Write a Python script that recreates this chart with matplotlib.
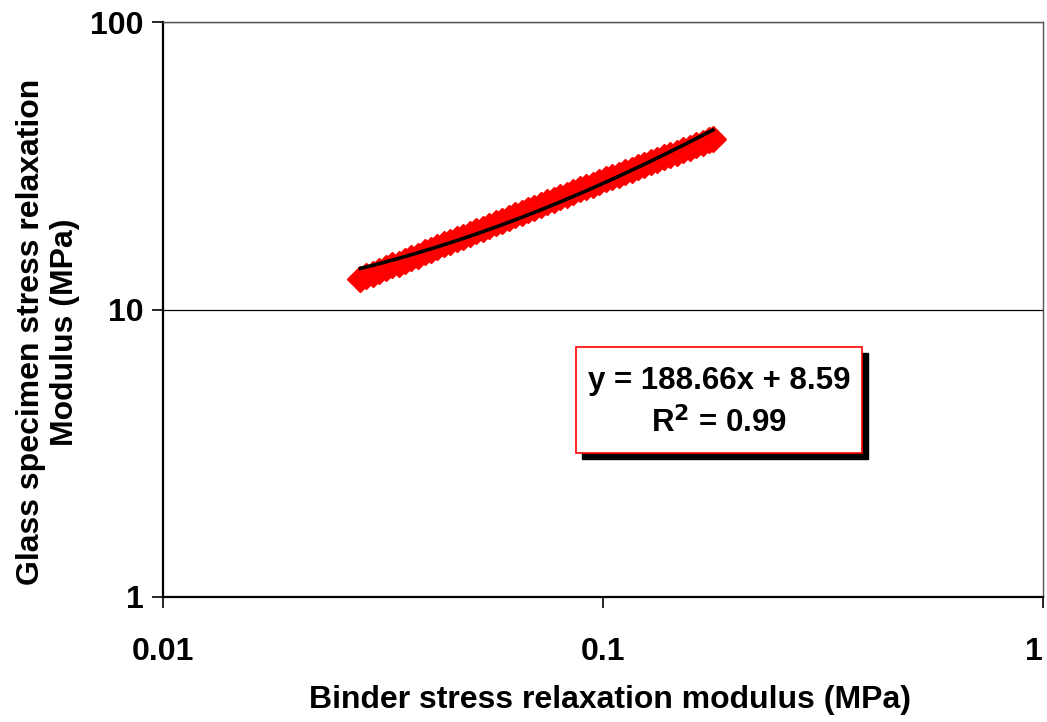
import numpy as np
import matplotlib
matplotlib.use("Agg")
import matplotlib.pyplot as plt
from matplotlib.patches import Rectangle

# Data (MPa)
binder_modulus = [0.0281, 0.0290, 0.0300, 0.0310, 0.0321, 0.0332, 0.0343, 0.0355,
                  0.0367, 0.0380, 0.0393, 0.0406, 0.0420, 0.0435, 0.0450, 0.0465,
                  0.0481, 0.0498, 0.0515, 0.0533, 0.0551, 0.0570, 0.0590, 0.0610,
                  0.0631, 0.0653, 0.0675, 0.0698, 0.0722, 0.0747, 0.0773, 0.0800,
                  0.0827, 0.0856, 0.0885, 0.0916, 0.0947, 0.0980, 0.1014, 0.1049,
                  0.1085, 0.1122, 0.1161, 0.1201, 0.1242, 0.1285, 0.1329, 0.1375,
                  0.1422, 0.1471, 0.1522, 0.1574, 0.1628, 0.1684, 0.1742, 0.1778]
glass_modulus = [12.81, 13.10, 13.30, 13.65, 13.90, 14.25, 14.45, 14.80,
                 15.15, 15.40, 15.80, 16.10, 16.45, 16.85, 17.15, 17.55,
                 17.90, 18.30, 18.70, 19.10, 19.50, 19.95, 20.35, 20.80,
                 21.25, 21.70, 22.15, 22.60, 23.10, 23.60, 24.05, 24.60,
                 25.10, 25.60, 26.15, 26.70, 27.20, 27.80, 28.35, 28.90,
                 29.45, 30.05, 30.65, 31.25, 31.85, 32.50, 33.15, 33.80,
                 34.45, 35.15, 35.85, 36.55, 37.25, 38.00, 38.75, 39.25]

# Linear trendline shown in the chart label
fit_slope = 188.66
fit_intercept = 8.59
fit_text = "y = 188.66x + 8.59\nR$^\\mathbf{2}$ = 0.99"

plt.rcParams['font.family'] = ['Liberation Sans', 'DejaVu Sans']
plt.rcParams['font.weight'] = 'bold'

fig = plt.figure(figsize=(10.47, 7.22), dpi=100)
ax = fig.add_axes([163/1047, 1 - 597/722, 880/1047, 575/722])

ax.plot(binder_modulus, glass_modulus, linestyle='none', marker='D',
        markersize=13.5, color='#ff0000', markeredgecolor='#ff0000', zorder=3)

x_fit = np.array(binder_modulus)
y_fit = fit_slope * x_fit + fit_intercept
ax.plot(x_fit, y_fit, color='black', linewidth=2.6, zorder=4)

ax.set_xscale('log')
ax.set_yscale('log')
ax.set_xlim(0.01, 1)
ax.set_ylim(1, 100)
ax.set_xticks([0.01, 0.1, 1])
ax.set_xticklabels(['0.01', '0.1', '1'])
ax.set_yticks([1, 10, 100])
ax.set_yticklabels(['1', '10', '100'])
ax.minorticks_off()
ax.tick_params(axis='both', direction='out', length=8, width=1.2, labelsize=23)
ax.tick_params(axis='x', pad=21)
ax.tick_params(axis='y', pad=6)
ax.get_xticklabels()[-1].set_horizontalalignment('right')

ax.yaxis.grid(True, color='black', linewidth=0.9)
ax.set_axisbelow(True)
for s in ['left', 'bottom']:
    ax.spines[s].set_linewidth(1.6)
for s in ['top', 'right']:
    ax.spines[s].set_color('#555555')
    ax.spines[s].set_linewidth(1.0)

# Equation box with shadow
x0, y0 = (576 - 163) / 880, (597 - 453) / 575
w, h = (862 - 576) / 880, (453 - 347) / 575
ax.add_patch(Rectangle((x0 + 6/880, y0 - 6/575), w, h, transform=ax.transAxes,
                       facecolor='black', edgecolor='black', zorder=5))
ax.add_patch(Rectangle((x0, y0), w, h, transform=ax.transAxes,
                       facecolor='white', edgecolor='#ff0000', linewidth=1.2, zorder=6))
ax.text(x0 + w/2, y0 + h/2 - 0.005, fit_text, transform=ax.transAxes, ha='center', va='center',
        fontsize=22.5, fontweight='bold', linespacing=1.45, zorder=7)

fig.text(610/1047, 1 - 700/722, "Binder stress relaxation modulus (MPa)",
         ha='center', va='center', fontsize=23, fontweight='bold')
fig.text(48/1047, 1 - 332/722, "Glass specimen stress relaxation\nModulus (MPa)",
         ha='center', va='center', rotation=90, fontsize=23, fontweight='bold',
         linespacing=1.2)

fig.savefig("out.png", dpi=100)
